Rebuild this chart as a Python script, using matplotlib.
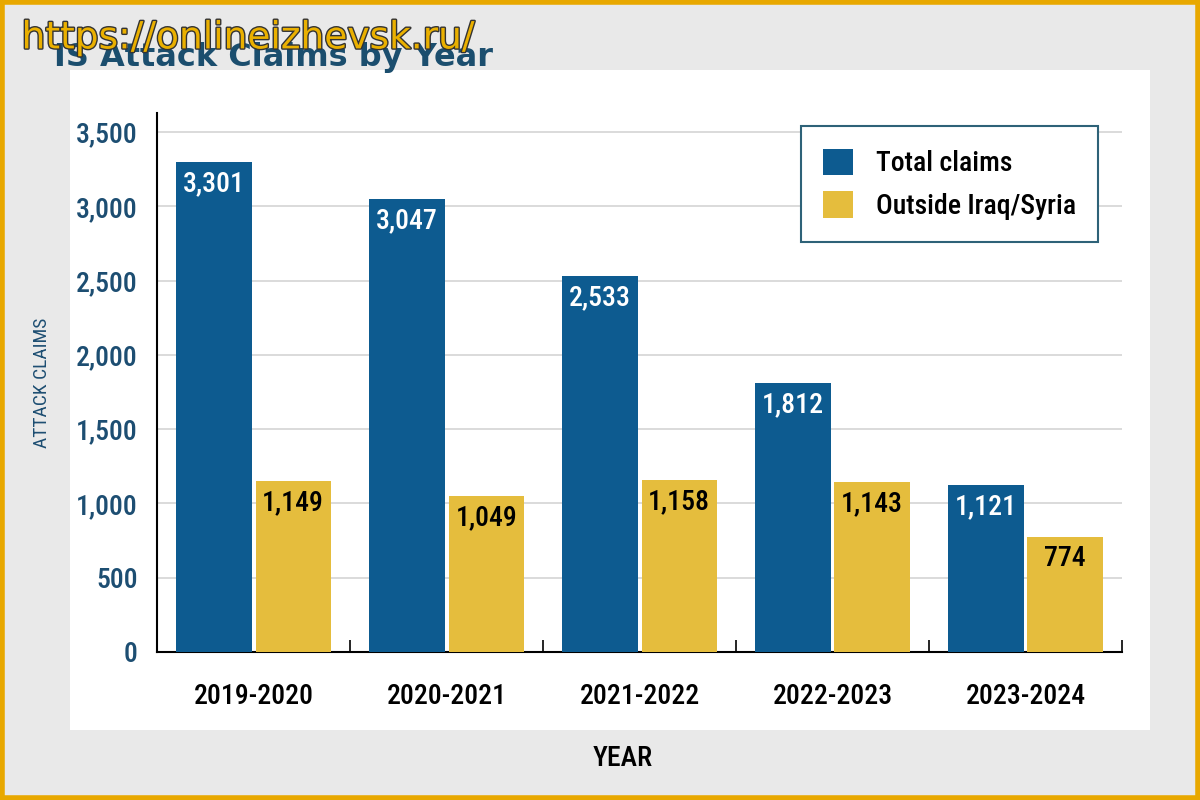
import matplotlib
matplotlib.use("Agg")
import matplotlib.pyplot as plt
import matplotlib.patheffects as pe
from matplotlib.patches import Rectangle
import numpy as np

years = ["2019-2020", "2020-2021", "2021-2022", "2022-2023", "2023-2024"]
total_claims = [3301, 3047, 2533, 1812, 1121]
outside = [1149, 1049, 1158, 1143, 774]
yticks = [0, 500, 1000, 1500, 2000, 2500, 3000, 3500]

BLUE = "#0d5b90"
YELLOW = "#e5bd3d"
TICKBLUE = "#1d4e72"
COND = ["Roboto Condensed", "Liberation Sans Narrow", "DejaVu Sans"]
ST = "condensed"
WT = "medium"

fig = plt.figure(figsize=(12, 8), dpi=100)
fig.patch.set_facecolor("#e9e9e9")

bg = fig.add_axes([0, 0, 1, 1], zorder=-10)
bg.set_xlim(0, 1)
bg.set_ylim(0, 1)
bg.axis("off")
bg.add_patch(Rectangle((0.058, 0.088), 0.9, 0.825, facecolor="white", edgecolor="none"))
bg.add_patch(Rectangle((0.002, 0.003), 0.996, 0.994, facecolor="none",
                       edgecolor="#e8a800", lw=4))

ax = fig.add_axes([0.131, 0.185, 0.804, 0.674], zorder=1)
ax.set_facecolor("none")
x = np.arange(len(years))
w = 0.39
b1 = ax.bar(x - w / 2 - 0.01, total_claims, w, color=BLUE, label="Total claims", zorder=3)
b2 = ax.bar(x + w / 2 + 0.01, outside, w, color=YELLOW, label="Outside Iraq/Syria", zorder=3)

for rect, v in zip(b1, total_claims):
    ax.text(rect.get_x() + rect.get_width() / 2, v - 55, f"{v:,}", ha="center", va="top",
            color="white", fontsize=20, family=COND, fontstretch=ST, fontweight=WT, zorder=4)
for rect, v in zip(b2, outside):
    ax.text(rect.get_x() + rect.get_width() / 2, v - 55, f"{v:,}", ha="center", va="top",
            color="black", fontsize=20, family=COND, fontstretch=ST, fontweight=WT, zorder=4)

ax.set_xlim(-0.5, 4.5)
ax.set_ylim(0, 3630)
ax.set_yticks(yticks)
ax.set_yticklabels([f"{t:,}" for t in yticks], color=TICKBLUE, fontsize=20,
                   family=COND, fontstretch=ST, fontweight=WT)
ax.set_xticks(x)
ax.set_xticklabels(years, fontsize=20, family=COND, fontstretch=ST, fontweight=WT,
                   color="black")
ax.set_xticks(np.arange(0.5, 5, 1), minor=True)
ax.tick_params(axis="x", which="major", length=0, pad=22)
ax.tick_params(axis="x", which="minor", direction="in", length=9, width=1.2, color="black")
ax.tick_params(axis="y", length=0, pad=14)
ax.yaxis.grid(True, color="#d4d4d4", lw=1.2, zorder=0)
ax.set_axisbelow(True)
for s in ["top", "right"]:
    ax.spines[s].set_visible(False)
for s in ["left", "bottom"]:
    ax.spines[s].set_color("black")
    ax.spines[s].set_linewidth(1.5)

ax.set_ylabel("ATTACK CLAIMS", color=TICKBLUE, fontsize=14, family=COND,
              fontstretch=ST, labelpad=18)
fig.text(0.519, 0.052, "YEAR", ha="center", va="center", fontsize=20,
         family=COND, fontstretch=ST, fontweight=WT, color="black")

leg = ax.legend(loc="upper right", bbox_to_anchor=(0.975, 0.975),
                prop={"family": COND, "size": 20, "stretch": ST, "weight": WT},
                frameon=True, fancybox=False, handlelength=1.1, handleheight=1.1,
                borderpad=0.8, labelspacing=0.5, handletextpad=0.8, borderaxespad=0)
leg.get_frame().set_edgecolor("#2e6278")
leg.get_frame().set_linewidth(1.5)
leg.get_frame().set_facecolor("white")
leg.get_frame().set_alpha(1)

fig.text(0.045, 0.928, "IS Attack Claims by Year", fontsize=23, fontweight="bold",
         color="#1b4e6e", ha="left", va="center", zorder=5)
fig.text(0.018, 0.952, "https://onlineizhevsk.ru/", fontsize=27, color="#eab000",
         ha="left", va="center", zorder=6,
         path_effects=[pe.withStroke(linewidth=2, foreground="#333333")])

fig.savefig("out.png", dpi=100, facecolor=fig.get_facecolor())
